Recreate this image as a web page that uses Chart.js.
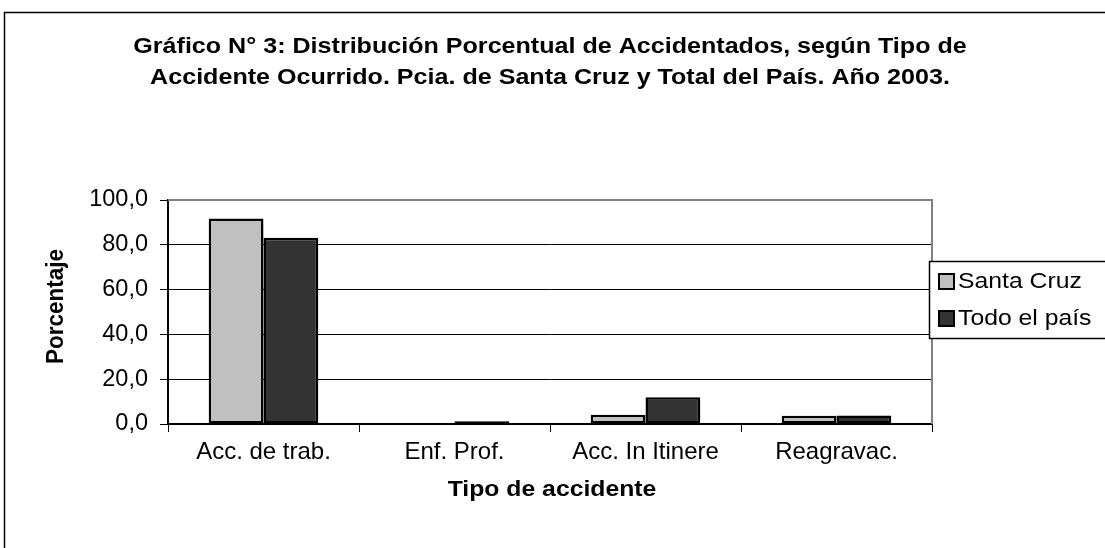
<!DOCTYPE html>
<html>
<head>
<meta charset="utf-8">
<script src="https://cdn.jsdelivr.net/npm/chart.js@4/dist/chart.umd.min.js"></script>
<style>
html,body{margin:0;padding:0;background:#fff;}
#wrap{width:1105px;height:548px;position:relative;}
</style>
</head>
<body>
<div id="wrap"><canvas id="c" width="1105" height="548"></canvas></div>
<script>
const categories = ["Acc. de trab.", "Enf. Prof.", "Acc. In Itinere", "Reagravac."];
const santaCruz = [91.7, 0.5, 4.1, 3.7];
const todoPais = [83.2, 1.2, 11.9, 3.8];
const seriesNames = ["Santa Cruz", "Todo el país"];
const titleLines = ["Gráfico N° 3: Distribución Porcentual de Accidentados, según Tipo de",
                    "Accidente Ocurrido. Pcia. de Santa Cruz y Total del País. Año 2003."];
const yTitle = "Porcentaje";
const xTitle = "Tipo de accidente";
const yTicks = [0, 20, 40, 60, 80, 100];

const FONT = "'Liberation Sans', Arial, sans-serif";
const SX = 1.1;

function stretchText(ctx, txt, x, y, sx) {
  ctx.save();
  ctx.translate(x, y);
  ctx.scale(sx, 1);
  ctx.fillText(txt, 0, 0);
  ctx.restore();
}

const decor = {
  id: 'decor',
  beforeDraw(chart) {
    const ctx = chart.ctx;
    ctx.save();
    ctx.fillStyle = '#fff';
    ctx.fillRect(0, 0, chart.width, chart.height);
    ctx.strokeStyle = '#000';
    ctx.lineWidth = 1.5;
    ctx.strokeRect(4.5, 12.5, 1200, 600);
    ctx.restore();
  },
  afterDraw(chart) {
    const ctx = chart.ctx;
    const a = chart.chartArea;
    ctx.save();
    ctx.strokeStyle = '#808080';
    ctx.lineWidth = 2;
    ctx.beginPath();
    ctx.moveTo(a.left, a.top);
    ctx.lineTo(a.right, a.top);
    ctx.lineTo(a.right, a.bottom);
    ctx.stroke();
    ctx.fillStyle = '#000';
    ctx.textAlign = 'center';
    ctx.textBaseline = 'middle';
    ctx.font = "bold 22.5px " + FONT;
    stretchText(ctx, titleLines[0], 550, 47, 1.115);
    stretchText(ctx, titleLines[1], 550, 78, 1.115);
    stretchText(ctx, xTitle, 552, 490, SX);
    ctx.save();
    ctx.translate(56, 306.5);
    ctx.scale(SX, 1);
    ctx.rotate(-Math.PI / 2);
    ctx.fillText(yTitle, 0, 0);
    ctx.restore();
    ctx.fillStyle = '#fff';
    ctx.fillRect(929, 261, 200, 77);
    ctx.strokeStyle = '#000';
    ctx.lineWidth = 1.5;
    ctx.strokeRect(929.5, 261.5, 200, 77);
    const ys = [281, 318];
    chart.data.datasets.forEach((ds, i) => {
      ctx.fillStyle = ds.backgroundColor;
      ctx.fillRect(939, ys[i] - 7, 15, 15);
      ctx.strokeStyle = '#000';
      ctx.lineWidth = 2;
      ctx.strokeRect(939, ys[i] - 7, 15, 15);
      ctx.fillStyle = '#000';
      ctx.textAlign = 'left';
      ctx.font = "22.5px " + FONT;
      stretchText(ctx, ds.label, 958, ys[i] + 1, SX);
    });
    ctx.restore();
  }
};

new Chart(document.getElementById('c'), {
  type: 'bar',
  data: {
    labels: categories,
    datasets: [
      { label: seriesNames[0], data: santaCruz, backgroundColor: '#c0c0c0', borderColor: '#000', borderWidth: 2.5, borderSkipped: false },
      { label: seriesNames[1], data: todoPais, backgroundColor: '#333333', borderColor: '#000', borderWidth: 2.5, borderSkipped: false }
    ]
  },
  options: {
    responsive: false,
    animation: false,
    devicePixelRatio: 1,
    categoryPercentage: 0.574,
    barPercentage: 1,
    layout: { padding: { top: 200, left: 0, right: 173, bottom: 0 } },
    plugins: { legend: { display: false }, title: { display: false }, tooltip: { enabled: false } },
    scales: {
      x: {
        grid: { display: true, drawOnChartArea: false, drawTicks: true, tickLength: 8, color: '#000', offset: true },
        border: { color: '#000', width: 2 },
        ticks: { color: '#000', font: { family: FONT, size: 24 }, padding: 6, maxRotation: 0 },
        afterFit(s) { s.height = 124; }
      },
      y: {
        min: 0, max: 100,
        afterBuildTicks(s) { s.ticks = yTicks.map(v => ({ value: v })); },
        grid: { color: '#000', lineWidth: 1, drawTicks: true, tickLength: 8 },
        border: { color: '#000', width: 2 },
        ticks: { color: '#000', font: { family: FONT, size: 23.5 }, padding: 12,
                 callback: v => v.toFixed(1).replace('.', ',') },
        afterFit(s) { s.width = 168; }
      }
    }
  },
  plugins: [decor]
});
</script>
</body>
</html>
